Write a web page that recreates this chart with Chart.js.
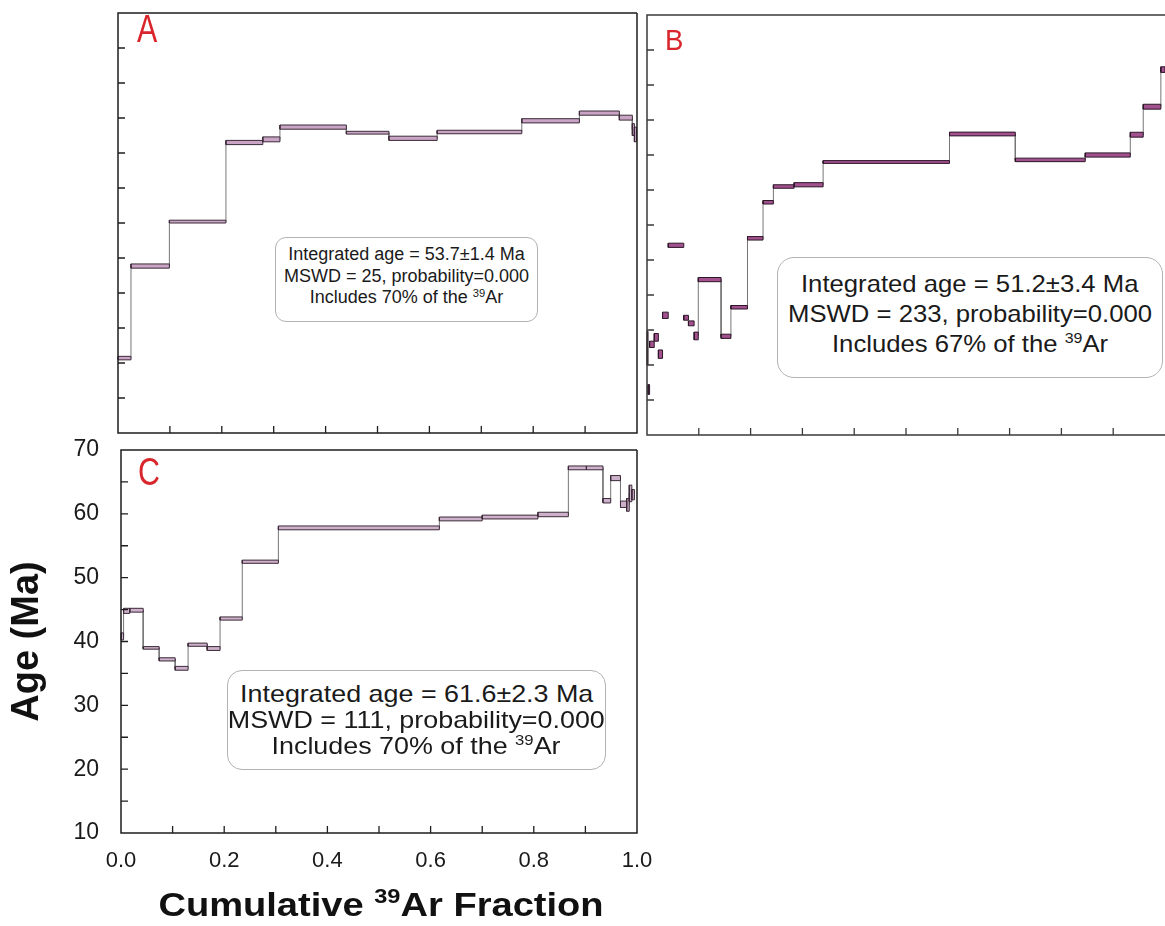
<!DOCTYPE html>
<html>
<head>
<meta charset="utf-8">
<script src="https://cdn.jsdelivr.net/npm/chart.js"></script>
<style>
  html, body { margin: 0; padding: 0; background: #fff; overflow: hidden; }
  body { width: 1165px; height: 926px; position: relative; font-family: 'Liberation Sans', Arial, sans-serif; color: #1a1a1a; }
  canvas { position: absolute; }
  .note { position: absolute; box-sizing: border-box; border: 1px solid #b2b2b2; background: #fff;
          display: flex; flex-direction: column; justify-content: center; align-items: center; }
  .note div { white-space: nowrap; text-align: center; }
  sup { font-size: 0.62em; vertical-align: 0; position: relative; top: -0.6em; line-height: 0; }
  .tag { position: absolute; color: #d8262c; white-space: nowrap; transform-origin: left top; }
  .xtitle { position: absolute; font-weight: bold; white-space: nowrap; text-align: center; color: #111; }
</style>
</head>
<body>
<canvas id="chartA" width="539" height="440" style="left:108px;top:3px"></canvas>
<canvas id="chartB" width="538" height="440" style="left:637px;top:5px"></canvas>
<canvas id="chartC" width="660" height="490" style="left:0;top:436px"></canvas>

<div class="tag" style="left:137px;top:10px;font-size:38px;line-height:38px;transform:scaleX(0.8)">A</div>
<div class="tag" style="left:665px;top:26px;font-size:29px;line-height:29px;transform:scaleX(0.95)">B</div>
<div class="tag" style="left:138px;top:453px;font-size:38px;line-height:38px;transform:scaleX(0.8)">C</div>

<div class="note" style="left:275px;top:237px;width:263px;height:85px;border-radius:11px;font-size:18px;line-height:21.5px;padding-bottom:6px">
  <div>Integrated age = 53.7±1.4 Ma</div>
  <div>MSWD = 25, probability=0.000</div>
  <div>Includes 70% of the <sup>39</sup>Ar</div>
</div>
<div class="note" style="left:777px;top:257px;width:386px;height:121px;border-radius:17px;font-size:24px;line-height:30px;padding-bottom:8px">
  <div style="transform:scaleX(1.07)">Integrated age = 51.2±3.4 Ma</div>
  <div style="transform:scaleX(1.07)">MSWD = 233, probability=0.000</div>
  <div style="transform:scaleX(1.07)">Includes 67% of the <sup>39</sup>Ar</div>
</div>
<div class="note" style="left:227px;top:670px;width:379px;height:100px;border-radius:15px;font-size:24px;line-height:26px">
  <div style="transform:scaleX(1.12)">Integrated age = 61.6±2.3 Ma</div>
  <div style="transform:scaleX(1.12)">MSWD = 111, probability=0.000</div>
  <div style="transform:scaleX(1.12)">Includes 70% of the <sup>39</sup>Ar</div>
</div>

<div class="xtitle" style="left:131px;top:887px;width:500px;font-size:34px;line-height:34px">
  <div style="transform:scaleX(1.12)">Cumulative <sup>39</sup>Ar Fraction</div>
</div>

<script>
// step boundaries (cumulative 39Ar fraction), plateau ages (Ma) and half-heights of the boxes (Ma)
const fracA = [0, 0.025, 0.099, 0.208, 0.279, 0.312, 0.44, 0.522, 0.615, 0.778, 0.889, 0.966, 0.991, 0.995, 0.999];
const ageA  = [20.7, 33.85, 40.2, 51.5, 51.95, 53.7, 52.9, 52.1, 53.0, 54.6, 55.7, 55.05, 53.35, 52.65];
const errA  = [0.25, 0.3, 0.2, 0.3, 0.35, 0.3, 0.2, 0.3, 0.25, 0.3, 0.3, 0.35, 0.85, 1.05];

const fracB = [0, 0.002, 0.005, 0.014, 0.022, 0.03, 0.041, 0.071, 0.08, 0.091, 0.099, 0.143, 0.162,
               0.194, 0.224, 0.244, 0.284, 0.34, 0.584, 0.711, 0.846, 0.933, 0.958, 0.992, 1.0];
const ageB  = [22.4, 16.5, 22.95, 23.95, 21.55, 27.1, 37.1, 26.75, 25.95, 24.15, 32.2, 24.1,
               28.25, 38.1, 43.25, 45.5, 45.75, 49.0, 53.0, 49.3, 50.0, 52.9, 56.9, 62.2];
const errB  = [2.4, 0.7, 0.45, 0.55, 0.6, 0.45, 0.3, 0.35, 0.35, 0.55, 0.3, 0.3,
               0.25, 0.25, 0.25, 0.25, 0.3, 0.2, 0.27, 0.25, 0.3, 0.35, 0.35, 0.4];

const fracC = [0, 0.005, 0.017, 0.043, 0.074, 0.105, 0.13, 0.167, 0.192, 0.235, 0.305, 0.617,
               0.70, 0.808, 0.867, 0.902, 0.934, 0.949, 0.968, 0.98, 0.985, 0.99, 0.995];
const ageC  = [40.8, 44.8, 44.9, 39.0, 37.2, 35.8, 39.5, 38.9, 43.6, 52.5, 57.8, 59.2,
               59.5, 59.9, 67.2, 67.2, 62.05, 65.6, 61.5, 61.4, 63.2, 63.0];
const errC  = [0.55, 0.4, 0.3, 0.2, 0.25, 0.3, 0.25, 0.3, 0.25, 0.25, 0.3, 0.3,
               0.3, 0.35, 0.3, 0.3, 0.35, 0.4, 0.5, 1.0, 1.3, 0.8];

// first step that is joined to the next one by a thin line
const linkA = 0, linkB = 9, linkC = 0;

const ageMin = 10, ageMax = 70, ageStep = 5;
const fracStep = 0.1;

Chart.defaults.font.family = "'Liberation Sans', Arial, sans-serif";
Chart.defaults.color = '#1a1a1a';

// box frame + inward tick marks
const framePlugin = {
  id: 'frame',
  afterDraw(chart) {
    const o = chart.options.plugins.frame;
    const { ctx, chartArea: a } = chart;
    const xs = chart.scales.x, ys = chart.scales.y;
    ctx.save();
    ctx.strokeStyle = o.color;
    ctx.lineWidth = o.width;
    ctx.beginPath();
    ctx.moveTo(a.right, a.top);
    ctx.lineTo(a.left, a.top);
    ctx.lineTo(a.left, a.bottom);
    ctx.lineTo(a.right, a.bottom);
    if (o.right) ctx.lineTo(a.right, a.top);
    ctx.stroke();
    ctx.lineWidth = 1.3;
    ctx.beginPath();
    ys.ticks.forEach(t => {
      const py = ys.getPixelForValue(t.value);
      if (py > a.top + 2 && py < a.bottom - 2) { ctx.moveTo(a.left, py); ctx.lineTo(a.left + 7, py); }
    });
    xs.ticks.forEach(t => {
      const px = xs.getPixelForValue(t.value);
      if (px > a.left + 2 && px < a.right - 2) { ctx.moveTo(px, a.bottom); ctx.lineTo(px, a.bottom - 7); }
    });
    ctx.stroke();
    ctx.restore();
  }
};

function stepSets(frac, age, err, fill, edge, linkFrom) {
  const link = [];
  for (let i = linkFrom; i < age.length; i++) {
    link.push({ x: frac[i], y: age[i] }, { x: frac[i + 1], y: age[i] });
  }
  const sets = [{ data: link, borderColor: '#767676', borderWidth: 1, pointRadius: 0, fill: false, order: 3 }];
  age.forEach((a, i) => {
    const x0 = frac[i], x1 = frac[i + 1], lo = a - err[i], hi = a + err[i];
    sets.push({
      data: [{ x: x0, y: hi }, { x: x1, y: hi }],
      fill: { value: lo }, backgroundColor: fill,
      borderColor: 'rgba(0,0,0,0)', borderWidth: 0, pointRadius: 0, order: 2
    });
    sets.push({
      data: [{ x: x0, y: lo }, { x: x1, y: lo }, { x: x1, y: hi }, { x: x0, y: hi }, { x: x0, y: lo }],
      fill: false, borderColor: edge, borderWidth: 1, pointRadius: 0, order: 1
    });
  });
  return sets;
}

// fixed scale size, no extra room asked for labels
function pinX(h) {
  return s => { s.height = h; s.paddingLeft = 0; s.paddingRight = 0; s.paddingTop = 0; s.paddingBottom = 0; };
}
function pinY(w) {
  return s => { s.width = w; s.paddingLeft = 0; s.paddingRight = 0; s.paddingTop = 0; s.paddingBottom = 0; };
}

function bareScales() {
  return {
    x: {
      type: 'linear', suggestedMin: 0, suggestedMax: 1,
      ticks: { display: false, stepSize: fracStep },
      grid: { display: false, drawTicks: false }, border: { display: false },
      afterFit: pinX(0)
    },
    y: {
      type: 'linear', suggestedMin: ageMin, suggestedMax: ageMax,
      ticks: { display: false, stepSize: ageStep },
      grid: { display: false, drawTicks: false }, border: { display: false },
      afterFit: pinY(0)
    }
  };
}

function baseOptions(scales, frame, padding) {
  return {
    responsive: false, animation: false, events: [],
    layout: { padding },
    plugins: { legend: { display: false }, tooltip: { enabled: false }, frame },
    scales
  };
}

new Chart(document.getElementById('chartA'), {
  type: 'line',
  data: { datasets: stepSets(fracA, ageA, errA, '#c9a4c5', '#3b2a38', linkA) },
  options: baseOptions(bareScales(), { color: '#1e1e1e', width: 1.5, right: true }, 10),
  plugins: [framePlugin]
});

new Chart(document.getElementById('chartB'), {
  type: 'line',
  data: { datasets: stepSets(fracB, ageB, errB, '#a2508e', '#2c1727', linkB) },
  options: baseOptions(bareScales(), { color: '#3a3a3a', width: 1.5, right: false }, 10),
  plugins: [framePlugin]
});

const scalesC = {
  x: {
    type: 'linear', suggestedMin: 0, suggestedMax: 1,
    ticks: {
      stepSize: fracStep, autoSkip: false, maxRotation: 0, padding: 15,
      font: { size: 22 }, color: '#1a1a1a',
      callback: v => (Math.round(v * 10) % 2 === 0 ? v.toFixed(1) : '')
    },
    grid: { display: false, drawTicks: false }, border: { display: false },
    afterFit: pinX(93)
  },
  y: {
    type: 'linear', suggestedMin: ageMin, suggestedMax: ageMax,
    ticks: {
      stepSize: ageStep, autoSkip: false, padding: 22,
      font: { size: 23 }, color: '#1a1a1a',
      callback: v => (v % 10 === 0 ? String(v) : '')
    },
    title: { display: true, text: 'Age (Ma)', font: { size: 38, weight: 'bold' }, color: '#111', padding: { top: 5, bottom: 0 } },
    grid: { display: false, drawTicks: false }, border: { display: false },
    afterFit: pinY(121)
  }
};

new Chart(document.getElementById('chartC'), {
  type: 'line',
  data: { datasets: stepSets(fracC, ageC, errC, '#cdb0ca', '#3b2a38', linkC) },
  options: baseOptions(scalesC, { color: '#1e1e1e', width: 1.5, right: true }, { top: 14, right: 23, left: 0, bottom: 0 }),
  plugins: [framePlugin]
});
</script>
</body>
</html>
